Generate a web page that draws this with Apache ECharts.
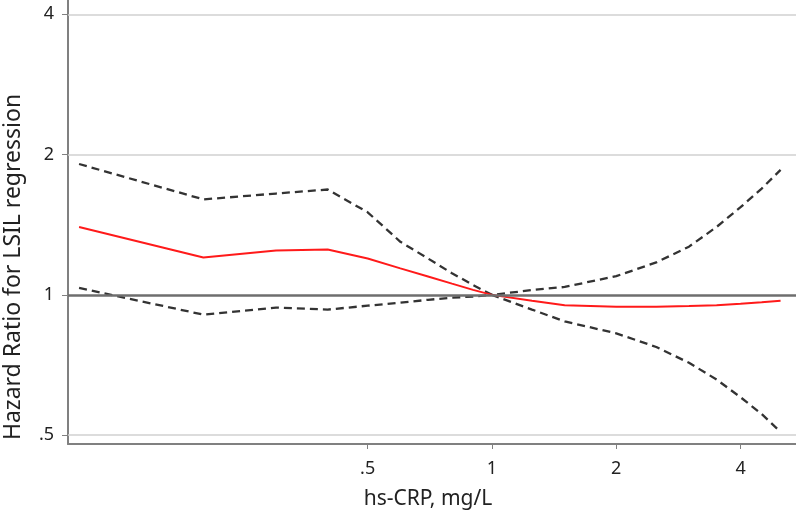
<!DOCTYPE html>
<html>
<head>
<meta charset="utf-8">
<script src="https://cdn.jsdelivr.net/npm/echarts@6/dist/echarts.min.js"></script>
<style>
html,body{margin:0;padding:0;background:#fff;}
#chart{width:796px;height:515px;}
</style>
</head>
<body>
<div id="chart"></div>
<script>
// hs-CRP values (mg/L)
var crp     = [0.1, 0.2, 0.3, 0.4, 0.5, 0.6, 0.7, 0.8, 0.9, 1, 1.25, 1.5, 2, 2.5, 3, 3.5, 4, 4.5, 5];
// Hazard ratio estimate
var hr      = [1.399, 1.203, 1.245, 1.251, 1.197, 1.14, 1.095, 1.057, 1.025, 1, 0.971, 0.950, 0.943, 0.943, 0.946, 0.950, 0.957, 0.964, 0.971];
// 95% CI upper bound
var ciUpper = [1.909, 1.603, 1.650, 1.683, 1.504, 1.30, 1.197, 1.113, 1.05, 1, 1.024, 1.040, 1.097, 1.174, 1.269, 1.399, 1.542, 1.691, 1.855];
// 95% CI lower bound
var ciLower = [1.035, 0.907, 0.939, 0.930, 0.948, 0.962, 0.976, 0.986, 0.992, 1, 0.930, 0.877, 0.827, 0.773, 0.715, 0.658, 0.603, 0.555, 0.508];

var xTickValues = [0.5, 1, 2, 4];
var xTickLabels = ['.5', '1', '2', '4'];
var yTickValues = [0.5, 1, 2, 4];
var yTickLabels = ['.5', '1', '2', '4'];
var yGridValues = [0.5, 2, 4];
var refValue = 1;

var xTitle = 'hs-CRP, mg/L';
var yTitle = 'Hazard Ratio for LSIL regression';

function lg(v){ return Math.log2(v); }
function pairs(ys){ return crp.map(function(x,i){ return [lg(x), lg(ys[i])]; }); }
function fmt(vals, labels){
  return function(v){
    for (var i=0;i<vals.length;i++){ if (Math.abs(lg(vals[i])-v) < 1e-6) return labels[i]; }
    return '';
  };
}

var chart = echarts.init(document.getElementById('chart'));
var FONT = 'Noto Sans';
chart.setOption({
  animation: false,
  backgroundColor: '#fff',
  grid: {left: 68, right: 0, top: 0, bottom: 64, containLabel: false},
  xAxis: {
    type: 'value',
    min: -3.411, max: 2.446,
    name: xTitle,
    nameLocation: 'middle',
    nameGap: 45,
    nameTextStyle: {fontFamily: FONT, fontSize: 21, color: '#222', padding: [0, 8, 0, 0]},
    axisLine: {show: true, onZero: false, lineStyle: {color: '#808080', width: 2}},
    axisTick: {show: true, length: 5, customValues: xTickValues.map(lg), lineStyle: {color: '#808080', width: 1}},
    axisLabel: {show: true, customValues: xTickValues.map(lg), formatter: fmt(xTickValues, xTickLabels), margin: 16, fontFamily: FONT, fontSize: 18, color: '#222'},
    splitLine: {show: false}
  },
  yAxis: {
    type: 'value',
    min: -1.063, max: 2.102,
    axisLine: {show: true, onZero: false, lineStyle: {color: '#808080', width: 2}},
    axisTick: {show: true, length: 6, customValues: yTickValues.map(lg), lineStyle: {color: '#808080', width: 1}},
    axisLabel: {show: true, customValues: yTickValues.map(lg), formatter: fmt(yTickValues, yTickLabels), margin: 14, fontFamily: FONT, fontSize: 18, color: '#222'},
    splitLine: {show: false}
  },
  graphic: [{
    type: 'text',
    x: 13, y: 267,
    rotation: Math.PI/2,
    style: {text: yTitle, fontFamily: FONT, fontSize: 23, fill: '#222', align: 'center', verticalAlign: 'middle'}
  }],
  series: [
    {
      type: 'line', name: 'grid', data: [], silent: true,
      markLine: {
        silent: true, symbol: 'none', label: {show: false},
        lineStyle: {color: '#d0d0d0', width: 1.5, type: 'solid'},
        data: yGridValues.map(function(v){ return {yAxis: lg(v)}; })
      }
    },
    {
      type: 'line', name: 'ref', data: [], silent: true,
      markLine: {
        silent: true, symbol: 'none', label: {show: false},
        lineStyle: {color: '#6e6e6e', width: 2.5, type: 'solid'},
        data: [{yAxis: lg(refValue)}]
      }
    },
    {
      type: 'line', name: 'Upper CI', data: pairs(ciUpper), showSymbol: false, symbol: 'none',
      lineStyle: {color: '#333333', width: 2.3, type: [8, 5]}
    },
    {
      type: 'line', name: 'Lower CI', data: pairs(ciLower), showSymbol: false, symbol: 'none',
      lineStyle: {color: '#333333', width: 2.3, type: [8, 5]}
    },
    {
      type: 'line', name: 'HR', data: pairs(hr), showSymbol: false, symbol: 'none',
      lineStyle: {color: '#ff1a1a', width: 2}
    }
  ]
});
</script>
</body>
</html>
